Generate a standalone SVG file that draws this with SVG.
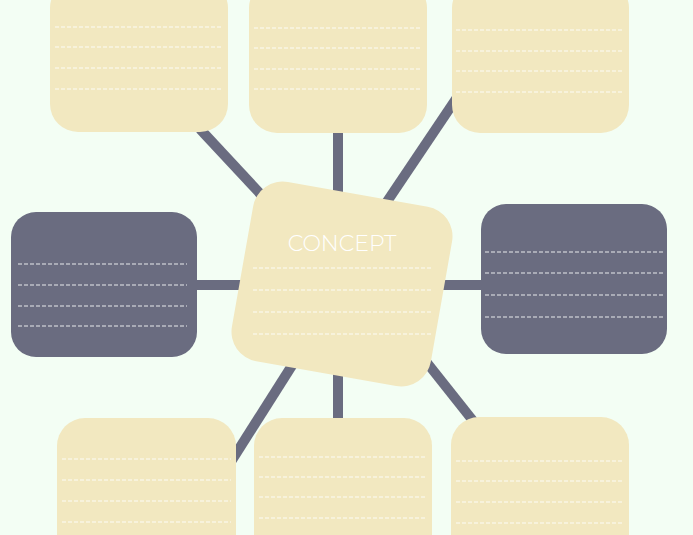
<svg xmlns="http://www.w3.org/2000/svg" width="693" height="535" viewBox="0 0 693 535">
<style>
.bg{fill:#f3fef4}
.lt{fill:#f2e8c0}
.dk{fill:#6a6c80}
.dl{stroke:#ffffff;stroke-opacity:0.85;stroke-width:1.2;stroke-dasharray:4 2;fill:none}
.cn{stroke:#6a6c80;stroke-width:10;fill:none;stroke-linecap:butt}
.title{font-family:"Montserrat","Open Sans","Liberation Sans",sans-serif;font-weight:300;font-size:22px;fill:#ffffff}
</style>
<rect class="bg" x="0" y="0" width="693" height="535"/>
<g id="connectors">
<line class="cn" x1="200" y1="129" x2="280" y2="215"/>
<line class="cn" x1="338" y1="130" x2="338" y2="210"/>
<line class="cn" x1="458" y1="96" x2="378" y2="215"/>
<line class="cn" x1="195" y1="285" x2="260" y2="285"/>
<line class="cn" x1="420" y1="285" x2="484" y2="285"/>
<line class="cn" x1="305" y1="345" x2="232" y2="460"/>
<line class="cn" x1="338" y1="350" x2="338" y2="420"/>
<line class="cn" x1="405" y1="335" x2="474" y2="422"/>
</g>
<g id="box-top-left">
<rect class="lt" x="50" y="-20" width="178" height="152" rx="28"/>
<path class="dl" d="M55 27H223M55 47H223M55 68H223M55 89H223"/>
</g>
<g id="box-top-center">
<rect class="lt" x="249" y="-20" width="178" height="153" rx="28"/>
<path class="dl" d="M254 28H422M254 48H422M254 69H422M254 89H422"/>
</g>
<g id="box-top-right">
<rect class="lt" x="452" y="-20" width="177" height="153" rx="28"/>
<path class="dl" d="M456 30H624M456 51H624M456 71H624M456 92H624"/>
</g>
<g id="box-left">
<rect class="dk" x="11" y="212" width="186" height="145" rx="25"/>
<path class="dl" d="M18 264H187M18 285H187M18 306H187M18 326H187"/>
</g>
<g id="box-right">
<rect class="dk" x="481" y="204" width="186" height="150" rx="25"/>
<path class="dl" d="M485 252H663M485 273H663M485 295H663M485 317H663"/>
</g>
<g id="box-bottom-left">
<rect class="lt" x="57" y="418" width="179" height="150" rx="28"/>
<path class="dl" d="M62 459H231M62 480H231M62 501H231M62 522H231"/>
</g>
<g id="box-bottom-center">
<rect class="lt" x="254" y="418" width="178" height="150" rx="28"/>
<path class="dl" d="M259 457H427M259 477H427M259 497H427M259 518H427"/>
</g>
<g id="box-bottom-right">
<rect class="lt" x="451" y="417" width="178" height="150" rx="28"/>
<path class="dl" d="M456 461H624M456 481H624M456 502H624M456 523H624"/>
</g>
<g id="concept">
<rect class="lt" x="241" y="193" width="202" height="182" rx="30" transform="rotate(10 342 284)"/>
<text class="title" x="342" y="251" text-anchor="middle">CONCEPT</text>
<path class="dl" d="M253 268H432M253 290H432M253 312H432M253 334H432"/>
</g>
</svg>
